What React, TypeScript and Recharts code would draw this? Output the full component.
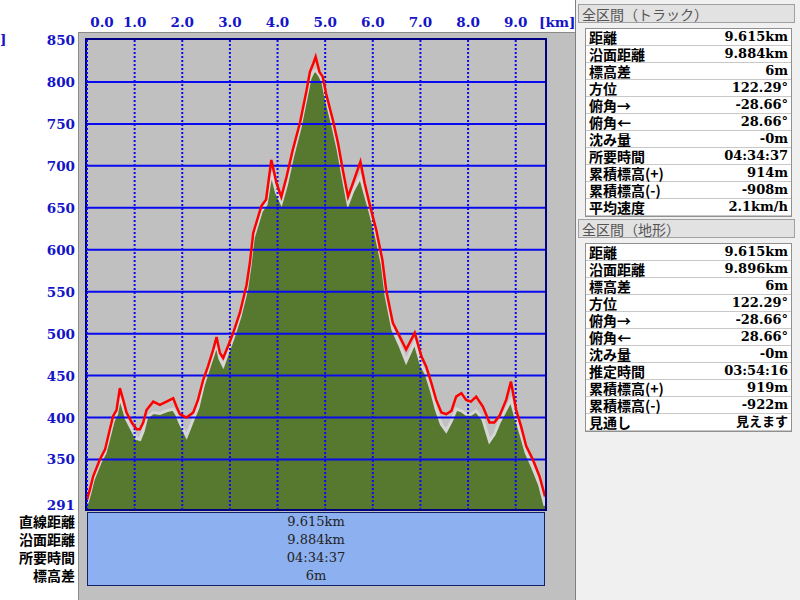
import { ComposedChart, Area, Line, XAxis, YAxis, ReferenceLine } from "recharts"

// distance along the route [km]
const distanceKm = [
  0, 0.06, 0.13, 0.27, 0.38, 0.48, 0.55, 0.62, 0.69, 0.76, 0.83, 0.94, 1.04, 1.11, 1.18, 1.25, 1.39, 1.53,
  1.67, 1.81, 1.88, 1.95, 2.09, 2.23, 2.33, 2.44, 2.54, 2.65, 2.72, 2.79, 2.86, 2.96, 3.07, 3.21, 3.35, 3.42,
  3.49, 3.66, 3.76, 3.87, 3.98, 4.08, 4.19, 4.32, 4.47, 4.61, 4.68, 4.75, 4.8, 4.88, 4.95, 5.02, 5.16, 5.27,
  5.37, 5.48, 5.58, 5.74, 5.83, 5.93, 6.07, 6.2, 6.28, 6.42, 6.56, 6.7, 6.88, 7.02, 7.12, 7.23, 7.33, 7.44,
  7.54, 7.65, 7.75, 7.86, 7.96, 8.06, 8.17, 8.31, 8.45, 8.55, 8.66, 8.8, 8.9, 9.01, 9.11, 9.22, 9.36, 9.5, 9.615,
]

// track elevation (red line) [m]
const trackElev = [
  302, 314, 330, 350, 362, 386, 402, 409, 435, 421, 406, 394, 386, 386, 394, 409, 419, 415,
  419, 423, 413, 404, 400, 406, 421, 445, 461, 481, 496, 477, 471, 485, 501, 525, 558, 585,
  620, 652, 660, 707, 679, 663, 687, 719, 751, 790, 812, 822, 830, 812, 806, 786, 755, 727,
  695, 663, 679, 705, 679, 655, 624, 588, 552, 513, 497, 481, 501, 473, 461, 441, 421, 406,
  404, 408, 425, 429, 421, 419, 425, 413, 394, 394, 402, 421, 443, 409, 390, 366, 350, 330, 306,
]

// terrain elevation (green area) [m]
const terrainElev = [
  298, 310, 326, 346, 358, 380, 396, 404, 425, 412, 398, 386, 375, 374, 384, 400, 406, 405,
  408, 410, 404, 394, 378, 398, 412, 438, 456, 475, 488, 470, 462, 478, 495, 520, 552, 580,
  614, 646, 654, 692, 668, 656, 678, 712, 745, 784, 804, 812, 814, 808, 800, 780, 748, 720,
  688, 655, 670, 687, 668, 648, 617, 582, 545, 505, 487, 467, 490, 462, 452, 432, 410, 392,
  384, 396, 410, 408, 404, 404, 408, 398, 372, 380, 395, 410, 421, 398, 380, 358, 340, 320, 295,
]

const xTicks = [0, 1, 2, 3, 4, 5, 6, 7, 8, 9]
const yTicks = [291, 350, 400, 450, 500, 550, 600, 650, 700, 750, 800, 850]
const gridY = [350, 400, 450, 500, 550, 600, 650, 700, 750, 800]

const trackStats = [
  ["距離", "9.615km"],
  ["沿面距離", "9.884km"],
  ["標高差", "6m"],
  ["方位", "122.29°"],
  ["俯角→", "-28.66°"],
  ["俯角←", "28.66°"],
  ["沈み量", "-0m"],
  ["所要時間", "04:34:37"],
  ["累積標高(+)", "914m"],
  ["累積標高(-)", "-908m"],
  ["平均速度", "2.1km/h"],
]

const terrainStats = [
  ["距離", "9.615km"],
  ["沿面距離", "9.896km"],
  ["標高差", "6m"],
  ["方位", "122.29°"],
  ["俯角→", "-28.66°"],
  ["俯角←", "28.66°"],
  ["沈み量", "-0m"],
  ["推定時間", "03:54:16"],
  ["累積標高(+)", "919m"],
  ["累積標高(-)", "-922m"],
  ["見通し", "見えます"],
]

const summaryLabels = ["直線距離", "沿面距離", "所要時間", "標高差"]
const summaryValues = ["9.615km", "9.884km", "04:34:37", "6m"]

const data = distanceKm.map((km, i) => ({ km, track: trackElev[i], terrain: terrainElev[i] }))

const BLUE = "#0a0aee"
const AXIS_TEXT = "#1414c8"
const NUM_FONT = '"DejaVu Serif", "Noto Sans CJK JP", serif'
const JP_FONT = '"Noto Sans CJK JP", sans-serif'

const XTick = (props: any) => {
  const { x, payload } = props
  const shift = payload.value === 0 ? 15 : 0
  return (
    <text x={x + shift} y={27} textAnchor="middle" fill={AXIS_TEXT} fontFamily={NUM_FONT} fontWeight="bold" fontSize={13.5}>
      {payload.value.toFixed(1)}
    </text>
  )
}

const YTick = (props: any) => {
  const { y, payload } = props
  const lift = payload.value === 291 ? 4 : 0
  return (
    <text x={75} y={y + 5 - lift} textAnchor="end" fill={AXIS_TEXT} fontFamily={NUM_FONT} fontWeight="bold" fontSize={13.5}>
      {payload.value}
    </text>
  )
}

function StatsTable({ title, rows, top }: { title: string; rows: string[][]; top: number }) {
  return (
    <>
      <div
        style={{
          position: "absolute",
          left: 578,
          top: top,
          width: 217,
          height: 19,
          background: "#e2e2e2",
          border: "1px solid #a0a0a0",
          color: "#555",
          fontFamily: JP_FONT,
          fontSize: 14,
          lineHeight: "18px",
          paddingLeft: 3,
          boxSizing: "border-box",
        }}
      >
        {title}
      </div>
      <div
        style={{
          position: "absolute",
          left: 585,
          top: top + 24,
          width: 205,
          background: "#fff",
          border: "1px solid #909090",
        }}
      >
        {rows.map(([k, v]) => (
          <div
            key={k}
            style={{
              height: 16,
              lineHeight: "16px",
              borderBottom: "1px solid #c8c8c8",
              display: "flex",
              justifyContent: "space-between",
              alignItems: "center",
              padding: "0 3px 0 3px",
              color: "#000",
            }}
          >
            <span style={{ fontFamily: JP_FONT, fontWeight: "bold", fontSize: 14, lineHeight: "16px" }}>{k}</span>
            <span style={{ fontFamily: NUM_FONT, fontWeight: "bold", fontSize: 13, lineHeight: "16px" }}>{v}</span>
          </div>
        ))}
      </div>
    </>
  )
}

export default function App() {
  return (
    <div style={{ position: "absolute", left: 0, top: 0, width: 800, height: 600, background: "#fff", overflow: "hidden" }}>
      {/* gray panel behind the profile */}
      <div
        style={{
          position: "absolute",
          left: 78,
          top: 32,
          width: 497,
          height: 568,
          background: "#c0c0c0",
          borderLeft: "1px solid #8a8a8a",
          borderTop: "1px solid #8a8a8a",
        }}
      />
      {/* plot frame */}
      <div
        style={{
          position: "absolute",
          left: 85,
          top: 38,
          width: 458,
          height: 469,
          background: "#c0c0c0",
          border: "2px solid #000080",
        }}
      />
      <div style={{ position: "absolute", left: 0, top: 30, lineHeight: "18px", color: AXIS_TEXT, fontFamily: NUM_FONT, fontWeight: "bold", fontSize: 13.5 }}>]</div>
      <div style={{ position: "absolute", left: 539, top: 13, lineHeight: "18px", color: AXIS_TEXT, fontFamily: NUM_FONT, fontWeight: "bold", fontSize: 13.5 }}>[km]</div>

      <div style={{ position: "absolute", left: 0, top: 0 }}>
        <ComposedChart width={575} height={600} data={data} margin={{ top: 0, right: 30, bottom: 91, left: 0 }}>
          <XAxis
            dataKey="km"
            type="number"
            orientation="top"
            domain={[0, 9.615]}
            ticks={xTicks}
            height={40}
            axisLine={false}
            tickLine={false}
            tick={<XTick />}
            allowDataOverflow
          />
          <YAxis
            type="number"
            domain={[291, 850]}
            ticks={yTicks}
            width={87}
            axisLine={false}
            tickLine={false}
            tick={<YTick />}
            allowDataOverflow
          />
          <Area
            type="linear"
            dataKey="terrain"
            fill="#56792f"
            fillOpacity={1}
            stroke="#d6d6d6"
            strokeWidth={3}
            isAnimationActive={false}
          />
          {gridY.map((v) => (
            <ReferenceLine key={"h" + v} y={v} stroke={BLUE} strokeWidth={2} zIndex={250} />
          ))}
          {xTicks.map((v) => (
            <ReferenceLine key={"v" + v} x={v} stroke={BLUE} strokeWidth={2} strokeDasharray="2 2" zIndex={250} />
          ))}
          <Line type="linear" dataKey="track" stroke="#ff0000" strokeWidth={2.5} dot={false} isAnimationActive={false} />
        </ComposedChart>
      </div>

      {/* summary box */}
      <div
        style={{
          position: "absolute",
          left: 87,
          top: 512,
          width: 456,
          height: 72,
          background: "#8db0f0",
          border: "1px solid #10206a",
          fontFamily: NUM_FONT,
          fontSize: 13,
          color: "#222",
          textAlign: "center",
        }}
      >
        {summaryValues.map((v) => (
          <div key={v} style={{ height: 18, lineHeight: "18px" }}>
            {v}
          </div>
        ))}
      </div>
      <div style={{ position: "absolute", left: 0, top: 512, width: 75, textAlign: "right", fontFamily: JP_FONT, fontWeight: "bold", fontSize: 14, color: "#000" }}>
        {summaryLabels.map((v) => (
          <div key={v} style={{ height: 18, lineHeight: "18px" }}>
            {v}
          </div>
        ))}
      </div>

      {/* right panel */}
      <div style={{ position: "absolute", left: 575, top: 0, width: 225, height: 600, background: "#f0f0f0", borderLeft: "1px solid #808080" }} />
      <StatsTable title="全区間（トラック）" rows={trackStats} top={4} />
      <StatsTable title="全区間（地形）" rows={terrainStats} top={219} />
    </div>
  )
}
